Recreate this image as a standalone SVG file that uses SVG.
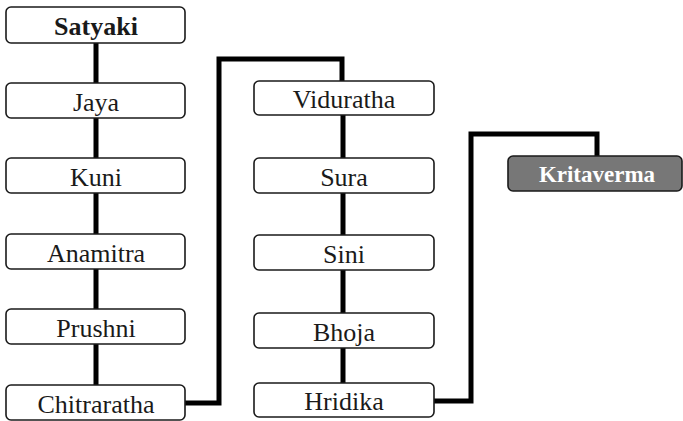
<svg xmlns="http://www.w3.org/2000/svg" width="683" height="421" viewBox="0 0 683 421">
<style>
.box{fill:#fff;stroke:#1a1a1a;stroke-width:1.6}
.dark{fill:#777;stroke:#1a1a1a;stroke-width:1.6}
.t{font-family:"Liberation Serif",serif;font-size:26px;fill:#1a1a1a;text-anchor:middle}
.b{font-weight:bold}
.w{fill:#fff;font-weight:bold;font-size:23px}
.c{fill:none;stroke:#000;stroke-width:5}
</style>
<rect width="683" height="421" fill="#fff"/>
<g id="connectors">
<line class="c" x1="96" y1="43" x2="96" y2="385"/>
<line class="c" x1="343" y1="115" x2="343" y2="383"/>
<polyline class="c" points="185,403 219,403 219,59 342,59 342,81"/>
<polyline class="c" points="434,401 471,401 471,134 597,134 597,156"/>
</g>
<g id="satyaki"><rect class="box" x="6" y="7" width="179" height="36" rx="5"/><text class="t b" x="96" y="35">Satyaki</text></g>
<g id="jaya"><rect class="box" x="6" y="83" width="179" height="35" rx="5"/><text class="t" x="96" y="111">Jaya</text></g>
<g id="kuni"><rect class="box" x="6" y="158" width="179" height="35" rx="5"/><text class="t" x="96" y="186">Kuni</text></g>
<g id="anamitra"><rect class="box" x="6" y="234" width="179" height="35" rx="5"/><text class="t" x="96" y="262">Anamitra</text></g>
<g id="prushni"><rect class="box" x="6" y="309" width="179" height="35" rx="5"/><text class="t" x="96" y="337">Prushni</text></g>
<g id="chitraratha"><rect class="box" x="6" y="385" width="179" height="35" rx="5"/><text class="t" x="96" y="413">Chitraratha</text></g>
<g id="viduratha"><rect class="box" x="254" y="81" width="180" height="34" rx="5"/><text class="t" x="344" y="108">Viduratha</text></g>
<g id="sura"><rect class="box" x="254" y="158" width="180" height="35" rx="5"/><text class="t" x="344" y="186">Sura</text></g>
<g id="sini"><rect class="box" x="254" y="235" width="180" height="35" rx="5"/><text class="t" x="344" y="263">Sini</text></g>
<g id="bhoja"><rect class="box" x="254" y="313" width="180" height="35" rx="5"/><text class="t" x="344" y="341">Bhoja</text></g>
<g id="hridika"><rect class="box" x="254" y="383" width="180" height="34" rx="5"/><text class="t" x="344" y="410">Hridika</text></g>
<g id="kritaverma"><rect class="dark" x="508" y="156" width="174" height="35" rx="5"/><text class="t w" x="597" y="182">Kritaverma</text></g>
</svg>
